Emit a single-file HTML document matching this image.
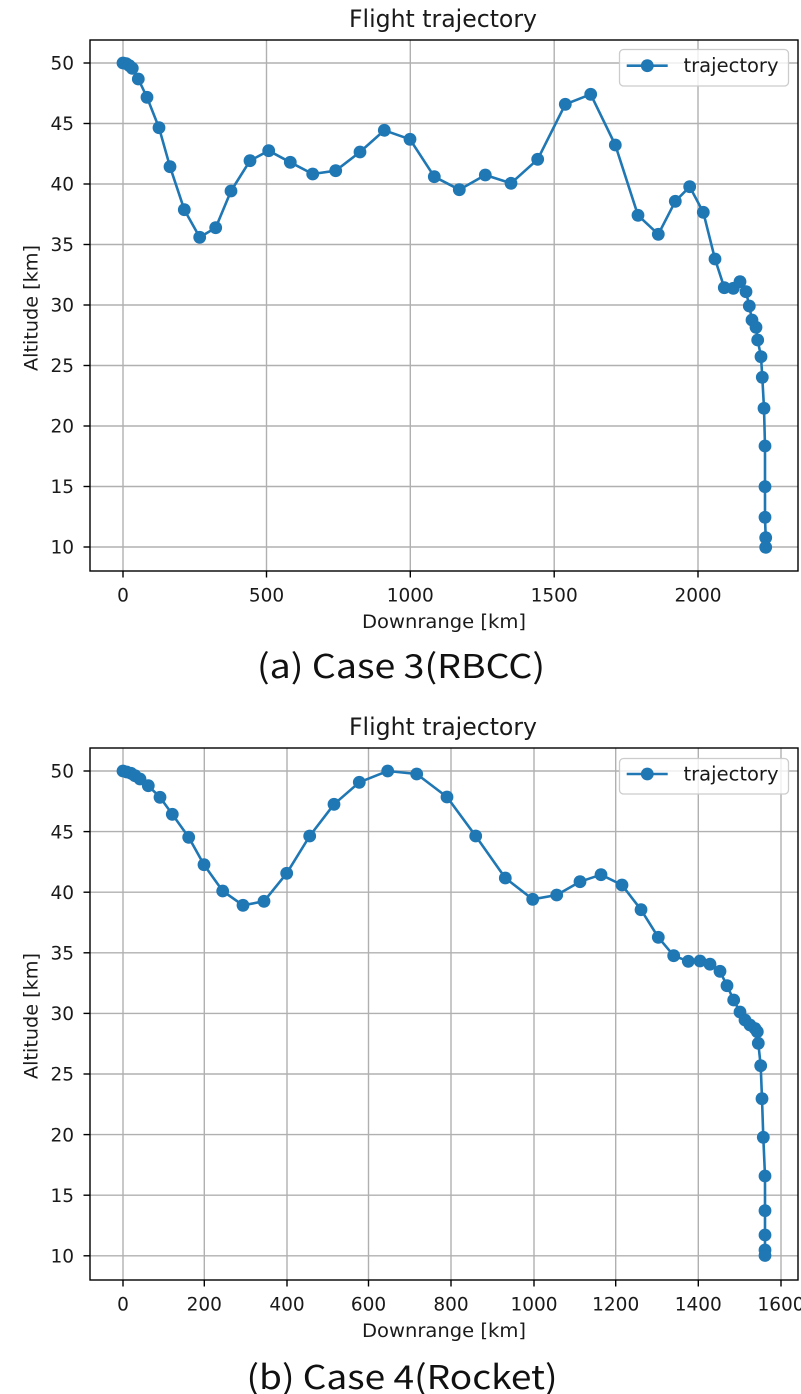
<!DOCTYPE html>
<html>
<head>
<meta charset="utf-8">
<style>
  html, body { margin: 0; padding: 0; background: #ffffff; }
  body { width: 801px; height: 1394px; overflow: hidden; }
  svg { display: block; }
  .tick { font-family: "DejaVu Sans", "Liberation Sans", sans-serif; font-size: 18.5px; fill: #1a1a1a; }
  .lab { font-family: "DejaVu Sans", "Liberation Sans", sans-serif; font-size: 18.5px; fill: #1a1a1a; }
  .ttl { font-family: "DejaVu Sans", "Liberation Sans", sans-serif; font-size: 24px; fill: #1a1a1a; }
  .leg { font-family: "DejaVu Sans", "Liberation Sans", sans-serif; font-size: 19.5px; fill: #1a1a1a; }
  .cap { font-family: "Noto Sans CJK KR", "Liberation Sans", sans-serif; font-size: 33px; fill: #111; }
  .grid line { stroke: #b0b0b0; stroke-width: 1.4; }
  .tk line { stroke: #000; stroke-width: 1.4; }
</style>
</head>
<body>
<svg width="801" height="1394" viewBox="0 0 801 1394" xmlns="http://www.w3.org/2000/svg">
  <rect x="0" y="0" width="801" height="1394" fill="#ffffff"/>

  <!-- ================= TOP CHART ================= -->
  <text class="ttl" x="443" y="27" text-anchor="middle" textLength="188" lengthAdjust="spacingAndGlyphs">Flight trajectory</text>

  <g class="grid">
    <line x1="123" y1="40" x2="123" y2="571"/>
    <line x1="266.5" y1="40" x2="266.5" y2="571"/>
    <line x1="410.3" y1="40" x2="410.3" y2="571"/>
    <line x1="554.2" y1="40" x2="554.2" y2="571"/>
    <line x1="698" y1="40" x2="698" y2="571"/>
    <line x1="90" y1="63" x2="798" y2="63"/>
    <line x1="90" y1="123.5" x2="798" y2="123.5"/>
    <line x1="90" y1="184" x2="798" y2="184"/>
    <line x1="90" y1="244.5" x2="798" y2="244.5"/>
    <line x1="90" y1="305" x2="798" y2="305"/>
    <line x1="90" y1="365.5" x2="798" y2="365.5"/>
    <line x1="90" y1="426" x2="798" y2="426"/>
    <line x1="90" y1="486.5" x2="798" y2="486.5"/>
    <line x1="90" y1="547" x2="798" y2="547"/>
  </g>

  <g class="tk">
    <line x1="123" y1="571" x2="123" y2="577.5"/>
    <line x1="266.5" y1="571" x2="266.5" y2="577.5"/>
    <line x1="410.3" y1="571" x2="410.3" y2="577.5"/>
    <line x1="554.2" y1="571" x2="554.2" y2="577.5"/>
    <line x1="698" y1="571" x2="698" y2="577.5"/>
    <line x1="83.5" y1="63" x2="90" y2="63"/>
    <line x1="83.5" y1="123.5" x2="90" y2="123.5"/>
    <line x1="83.5" y1="184" x2="90" y2="184"/>
    <line x1="83.5" y1="244.5" x2="90" y2="244.5"/>
    <line x1="83.5" y1="305" x2="90" y2="305"/>
    <line x1="83.5" y1="365.5" x2="90" y2="365.5"/>
    <line x1="83.5" y1="426" x2="90" y2="426"/>
    <line x1="83.5" y1="486.5" x2="90" y2="486.5"/>
    <line x1="83.5" y1="547" x2="90" y2="547"/>
  </g>

  <g class="tick" text-anchor="middle">
    <text x="123" y="601.5">0</text>
    <text x="266.5" y="601.5">500</text>
    <text x="410.3" y="601.5">1000</text>
    <text x="554.2" y="601.5">1500</text>
    <text x="698" y="601.5">2000</text>
  </g>
  <g class="tick" text-anchor="end">
    <text x="74" y="69.7">50</text>
    <text x="74" y="130.2">45</text>
    <text x="74" y="190.7">40</text>
    <text x="74" y="251.2">35</text>
    <text x="74" y="311.7">30</text>
    <text x="74" y="372.2">25</text>
    <text x="74" y="432.7">20</text>
    <text x="74" y="493.2">15</text>
    <text x="74" y="553.7">10</text>
  </g>

  <text class="lab" x="444" y="628" text-anchor="middle" textLength="164" lengthAdjust="spacingAndGlyphs">Downrange [km]</text>
  <text class="lab" transform="translate(37.5,308) rotate(-90)" text-anchor="middle" textLength="126" lengthAdjust="spacingAndGlyphs">Altitude [km]</text>

  <polyline fill="none" stroke="#1f77b4" stroke-width="2.6" stroke-linejoin="round"
    points="123,63 126.3,63.6 129.3,65.6 132.3,68.3 138.3,79 147,97.3 159,127.7 170,166.7 184.3,209.7 199.7,237.3 215.7,227.7 231,191 250,160.7 268.7,150.7 290.3,162.3 312.7,174 335.7,170.7 360,152 384.3,130.3 410,139.3 434.3,176.7 459.3,189.7 485.3,175 511,183.3 537.7,159.3 565.3,104.3 590.7,94.3 615.3,145 638,215.3 658.3,234.3 675.3,201.3 689.7,186.7 703.3,212.3 715,259 724.3,287.7 733.3,288.3 740,281.7 746,291.7 749.3,306 752,320 756,327.3 757.7,340 761,356.7 762.3,377.3 764,408.3 765,446 765,486.7 765,517.3 765.7,537.7 765.7,547.3"/>
  <g fill="#1f77b4">
    <circle cx="123" cy="63" r="6.4"/><circle cx="126.3" cy="63.6" r="6.4"/><circle cx="129.3" cy="65.6" r="6.4"/><circle cx="132.3" cy="68.3" r="6.4"/>
    <circle cx="138.3" cy="79" r="6.4"/><circle cx="147" cy="97.3" r="6.4"/><circle cx="159" cy="127.7" r="6.4"/><circle cx="170" cy="166.7" r="6.4"/>
    <circle cx="184.3" cy="209.7" r="6.4"/><circle cx="199.7" cy="237.3" r="6.4"/><circle cx="215.7" cy="227.7" r="6.4"/><circle cx="231" cy="191" r="6.4"/>
    <circle cx="250" cy="160.7" r="6.4"/><circle cx="268.7" cy="150.7" r="6.4"/><circle cx="290.3" cy="162.3" r="6.4"/><circle cx="312.7" cy="174" r="6.4"/>
    <circle cx="335.7" cy="170.7" r="6.4"/><circle cx="360" cy="152" r="6.4"/><circle cx="384.3" cy="130.3" r="6.4"/><circle cx="410" cy="139.3" r="6.4"/>
    <circle cx="434.3" cy="176.7" r="6.4"/><circle cx="459.3" cy="189.7" r="6.4"/><circle cx="485.3" cy="175" r="6.4"/><circle cx="511" cy="183.3" r="6.4"/>
    <circle cx="537.7" cy="159.3" r="6.4"/><circle cx="565.3" cy="104.3" r="6.4"/><circle cx="590.7" cy="94.3" r="6.4"/><circle cx="615.3" cy="145" r="6.4"/>
    <circle cx="638" cy="215.3" r="6.4"/><circle cx="658.3" cy="234.3" r="6.4"/><circle cx="675.3" cy="201.3" r="6.4"/><circle cx="689.7" cy="186.7" r="6.4"/>
    <circle cx="703.3" cy="212.3" r="6.4"/><circle cx="715" cy="259" r="6.4"/><circle cx="724.3" cy="287.7" r="6.4"/><circle cx="733.3" cy="288.3" r="6.4"/>
    <circle cx="740" cy="281.7" r="6.4"/><circle cx="746" cy="291.7" r="6.4"/><circle cx="749.3" cy="306" r="6.4"/><circle cx="752" cy="320" r="6.4"/>
    <circle cx="756" cy="327.3" r="6.4"/><circle cx="757.7" cy="340" r="6.4"/><circle cx="761" cy="356.7" r="6.4"/><circle cx="762.3" cy="377.3" r="6.4"/>
    <circle cx="764" cy="408.3" r="6.4"/><circle cx="765" cy="446" r="6.4"/><circle cx="765" cy="486.7" r="6.4"/><circle cx="765" cy="517.3" r="6.4"/>
    <circle cx="765.7" cy="537.7" r="6.4"/><circle cx="765.7" cy="547.3" r="6.4"/>
  </g>

  <!-- legend top -->
  <rect x="619.5" y="49.5" width="169" height="36.5" rx="4" ry="4" fill="#ffffff" fill-opacity="0.8" stroke="#cccccc" stroke-width="1.3"/>
  <line x1="626.7" y1="65.7" x2="667.7" y2="65.7" stroke="#1f77b4" stroke-width="2.6"/>
  <circle cx="647.3" cy="65.7" r="6.4" fill="#1f77b4"/>
  <text class="leg" x="683.5" y="72" textLength="95" lengthAdjust="spacingAndGlyphs">trajectory</text>

  <rect x="90" y="40" width="708" height="531" fill="none" stroke="#000" stroke-width="1.4"/>

  <text class="cap" x="401" y="678" text-anchor="middle" textLength="288" lengthAdjust="spacingAndGlyphs">(a) Case 3(RBCC)</text>

  <!-- ================= BOTTOM CHART ================= -->
  <text class="ttl" x="443" y="735" text-anchor="middle" textLength="188" lengthAdjust="spacingAndGlyphs">Flight trajectory</text>

  <g class="grid">
    <line x1="123" y1="748" x2="123" y2="1280"/>
    <line x1="204.3" y1="748" x2="204.3" y2="1280"/>
    <line x1="287" y1="748" x2="287" y2="1280"/>
    <line x1="368.5" y1="748" x2="368.5" y2="1280"/>
    <line x1="451" y1="748" x2="451" y2="1280"/>
    <line x1="534" y1="748" x2="534" y2="1280"/>
    <line x1="615.7" y1="748" x2="615.7" y2="1280"/>
    <line x1="698.3" y1="748" x2="698.3" y2="1280"/>
    <line x1="781" y1="748" x2="781" y2="1280"/>
    <line x1="90" y1="771" x2="798" y2="771"/>
    <line x1="90" y1="831.6" x2="798" y2="831.6"/>
    <line x1="90" y1="892.2" x2="798" y2="892.2"/>
    <line x1="90" y1="952.8" x2="798" y2="952.8"/>
    <line x1="90" y1="1013.4" x2="798" y2="1013.4"/>
    <line x1="90" y1="1074" x2="798" y2="1074"/>
    <line x1="90" y1="1134.6" x2="798" y2="1134.6"/>
    <line x1="90" y1="1195.2" x2="798" y2="1195.2"/>
    <line x1="90" y1="1255.8" x2="798" y2="1255.8"/>
  </g>

  <g class="tk">
    <line x1="123" y1="1280" x2="123" y2="1286.5"/>
    <line x1="204.3" y1="1280" x2="204.3" y2="1286.5"/>
    <line x1="287" y1="1280" x2="287" y2="1286.5"/>
    <line x1="368.5" y1="1280" x2="368.5" y2="1286.5"/>
    <line x1="451" y1="1280" x2="451" y2="1286.5"/>
    <line x1="534" y1="1280" x2="534" y2="1286.5"/>
    <line x1="615.7" y1="1280" x2="615.7" y2="1286.5"/>
    <line x1="698.3" y1="1280" x2="698.3" y2="1286.5"/>
    <line x1="781" y1="1280" x2="781" y2="1286.5"/>
    <line x1="83.5" y1="771" x2="90" y2="771"/>
    <line x1="83.5" y1="831.6" x2="90" y2="831.6"/>
    <line x1="83.5" y1="892.2" x2="90" y2="892.2"/>
    <line x1="83.5" y1="952.8" x2="90" y2="952.8"/>
    <line x1="83.5" y1="1013.4" x2="90" y2="1013.4"/>
    <line x1="83.5" y1="1074" x2="90" y2="1074"/>
    <line x1="83.5" y1="1134.6" x2="90" y2="1134.6"/>
    <line x1="83.5" y1="1195.2" x2="90" y2="1195.2"/>
    <line x1="83.5" y1="1255.8" x2="90" y2="1255.8"/>
  </g>

  <g class="tick" text-anchor="middle">
    <text x="123" y="1310.5">0</text>
    <text x="204.3" y="1310.5">200</text>
    <text x="287" y="1310.5">400</text>
    <text x="368.5" y="1310.5">600</text>
    <text x="451" y="1310.5">800</text>
    <text x="534" y="1310.5">1000</text>
    <text x="615.7" y="1310.5">1200</text>
    <text x="698.3" y="1310.5">1400</text>
    <text x="781" y="1310.5">1600</text>
  </g>
  <g class="tick" text-anchor="end">
    <text x="74" y="777.7">50</text>
    <text x="74" y="838.3">45</text>
    <text x="74" y="898.9">40</text>
    <text x="74" y="959.5">35</text>
    <text x="74" y="1020.1">30</text>
    <text x="74" y="1080.7">25</text>
    <text x="74" y="1141.3">20</text>
    <text x="74" y="1201.9">15</text>
    <text x="74" y="1262.5">10</text>
  </g>

  <text class="lab" x="444" y="1337" text-anchor="middle" textLength="164" lengthAdjust="spacingAndGlyphs">Downrange [km]</text>
  <text class="lab" transform="translate(37.5,1016) rotate(-90)" text-anchor="middle" textLength="126" lengthAdjust="spacingAndGlyphs">Altitude [km]</text>

  <polyline fill="none" stroke="#1f77b4" stroke-width="2.6" stroke-linejoin="round"
    points="123,771 126.7,772 131,773.3 135,775.7 140,779 148.3,785.7 160,797.3 172.3,814.3 188.7,837.3 204,864.7 222.7,891 243,905.3 264,901.3 286.7,873.3 309.7,836 334,804.3 359.3,782.3 387.7,771 416.7,774 447,797 475.7,836 505.3,878 532.7,899.3 556.7,895 580,881.7 601,874.7 622,885 641,909.7 658.3,937.3 673.7,955.7 688.3,961.3 700,961 710,964.2 720,971.3 727,985.7 733.7,1000 740,1012 745,1020 750,1025 755,1028.5 757.3,1031.7 758.3,1043.3 760.7,1065.7 762,1098.7 763.3,1137.3 765,1176 765,1210.7 765,1235 765,1250 765,1255.5"/>
  <g fill="#1f77b4">
    <circle cx="123" cy="771" r="6.4"/><circle cx="126.7" cy="772" r="6.4"/><circle cx="131" cy="773.3" r="6.4"/><circle cx="135" cy="775.7" r="6.4"/>
    <circle cx="140" cy="779" r="6.4"/><circle cx="148.3" cy="785.7" r="6.4"/><circle cx="160" cy="797.3" r="6.4"/><circle cx="172.3" cy="814.3" r="6.4"/>
    <circle cx="188.7" cy="837.3" r="6.4"/><circle cx="204" cy="864.7" r="6.4"/><circle cx="222.7" cy="891" r="6.4"/><circle cx="243" cy="905.3" r="6.4"/>
    <circle cx="264" cy="901.3" r="6.4"/><circle cx="286.7" cy="873.3" r="6.4"/><circle cx="309.7" cy="836" r="6.4"/><circle cx="334" cy="804.3" r="6.4"/>
    <circle cx="359.3" cy="782.3" r="6.4"/><circle cx="387.7" cy="771" r="6.4"/><circle cx="416.7" cy="774" r="6.4"/><circle cx="447" cy="797" r="6.4"/>
    <circle cx="475.7" cy="836" r="6.4"/><circle cx="505.3" cy="878" r="6.4"/><circle cx="532.7" cy="899.3" r="6.4"/><circle cx="556.7" cy="895" r="6.4"/>
    <circle cx="580" cy="881.7" r="6.4"/><circle cx="601" cy="874.7" r="6.4"/><circle cx="622" cy="885" r="6.4"/><circle cx="641" cy="909.7" r="6.4"/>
    <circle cx="658.3" cy="937.3" r="6.4"/><circle cx="673.7" cy="955.7" r="6.4"/><circle cx="688.3" cy="961.3" r="6.4"/><circle cx="700" cy="961" r="6.4"/>
    <circle cx="710" cy="964.2" r="6.4"/><circle cx="720" cy="971.3" r="6.4"/><circle cx="727" cy="985.7" r="6.4"/><circle cx="733.7" cy="1000" r="6.4"/>
    <circle cx="740" cy="1012" r="6.4"/><circle cx="745" cy="1020" r="6.4"/><circle cx="750" cy="1025" r="6.4"/><circle cx="755" cy="1028.5" r="6.4"/>
    <circle cx="757.3" cy="1031.7" r="6.4"/><circle cx="758.3" cy="1043.3" r="6.4"/><circle cx="760.7" cy="1065.7" r="6.4"/><circle cx="762" cy="1098.7" r="6.4"/>
    <circle cx="763.3" cy="1137.3" r="6.4"/><circle cx="765" cy="1176" r="6.4"/><circle cx="765" cy="1210.7" r="6.4"/><circle cx="765" cy="1235" r="6.4"/>
    <circle cx="765" cy="1250" r="6.4"/><circle cx="765" cy="1255.5" r="6.4"/>
  </g>

  <!-- legend bottom -->
  <rect x="619.5" y="758.5" width="169" height="35.5" rx="4" ry="4" fill="#ffffff" fill-opacity="0.8" stroke="#cccccc" stroke-width="1.3"/>
  <line x1="626.7" y1="774" x2="667.7" y2="774" stroke="#1f77b4" stroke-width="2.6"/>
  <circle cx="647.3" cy="774" r="6.4" fill="#1f77b4"/>
  <text class="leg" x="683.5" y="780.5" textLength="95" lengthAdjust="spacingAndGlyphs">trajectory</text>

  <rect x="90" y="748" width="708" height="532" fill="none" stroke="#000" stroke-width="1.4"/>

  <text class="cap" x="402" y="1389" text-anchor="middle" textLength="311" lengthAdjust="spacingAndGlyphs">(b) Case 4(Rocket)</text>
</svg>
</body>
</html>
